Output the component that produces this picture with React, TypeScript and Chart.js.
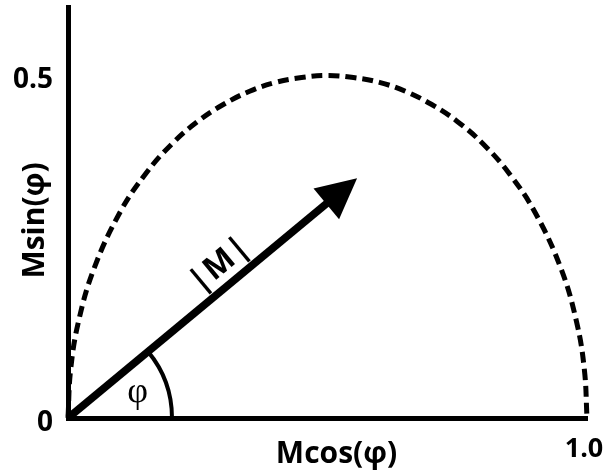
import React, { useEffect, useRef } from "react";
import { Chart, registerables } from "chart.js";

Chart.register(...registerables);

// Locus of the vector tip: semicircle over the x axis
const locusX = [0, 0.005, 0.02, 0.05, 0.1, 0.15, 0.2, 0.25, 0.3, 0.35, 0.4, 0.45, 0.5, 0.55, 0.6, 0.65, 0.7, 0.75, 0.8, 0.85, 0.9, 0.95, 0.98, 0.995, 1.0];
const locusY = [0, 0.07, 0.14, 0.218, 0.3, 0.357, 0.4, 0.433, 0.458, 0.477, 0.49, 0.497, 0.5, 0.497, 0.49, 0.477, 0.458, 0.433, 0.4, 0.357, 0.3, 0.218, 0.14, 0.07, 0];

// Vector |M| from the origin to its tip
const vectorX = [0, 0.557];
const vectorY = [0, 0.35];

// Axis ticks
const xTickValues = [1.0];
const xTickLabels = ["1.0"];
const yTickValues = [0, 0.5];
const yTickLabels = ["0", "0.5"];

const xTitle = "Mcos(φ)";
const yTitle = "Msin(φ)";
const vectorLabel = "|M|";
const angleLabel = "φ";

const BOLD = "'Open Sans', Lato, 'DejaVu Sans', sans-serif";

const vectorPlugin = {
  id: "vectorAnnotations",
  afterDatasetsDraw(chart: any) {
    const { ctx, chartArea, scales } = chart;
    const xs = scales.x;
    const ys = scales.y;
    const ox = xs.getPixelForValue(vectorX[0]);
    const oy = ys.getPixelForValue(vectorY[0]);
    const tx = xs.getPixelForValue(vectorX[1]);
    const ty = ys.getPixelForValue(vectorY[1]);
    const ang = Math.atan2(ty - oy, tx - ox);
    const len = Math.hypot(tx - ox, ty - oy);
    const ux = (tx - ox) / len;
    const uy = (ty - oy) / len;
    const nx = -uy;
    const ny = ux;
    const headLen = 40;
    const headHalf = 20;

    ctx.save();
    ctx.strokeStyle = "#000";
    ctx.fillStyle = "#000";

    // angle arc
    ctx.beginPath();
    ctx.lineWidth = 4;
    ctx.arc(ox, oy, 104, ang, 0);
    ctx.stroke();

    // shaft
    const bx = tx - ux * headLen;
    const by = ty - uy * headLen;
    ctx.beginPath();
    ctx.lineWidth = 7.5;
    ctx.lineCap = "butt";
    ctx.moveTo(ox, oy);
    ctx.lineTo(bx + ux * 2, by + uy * 2);
    ctx.stroke();

    // head
    ctx.beginPath();
    ctx.moveTo(tx, ty);
    ctx.lineTo(bx + nx * headHalf, by + ny * headHalf);
    ctx.lineTo(bx - nx * headHalf, by - ny * headHalf);
    ctx.closePath();
    ctx.fill();

    // |M| label along the vector
    const lx = ox + ux * len * 0.57 - nx * 21;
    const ly = oy + uy * len * 0.57 - ny * 21;
    ctx.save();
    ctx.translate(lx, ly);
    ctx.rotate(ang);
    ctx.font = `bold 32px ${BOLD}`;
    (ctx as any).letterSpacing = "1px";
    ctx.textAlign = "center";
    ctx.textBaseline = "middle";
    ctx.fillText(vectorLabel, 1, 0);
    ctx.restore();

    // angle symbol
    ctx.font = "36px 'Liberation Serif', 'DejaVu Serif', serif";
    ctx.textAlign = "center";
    ctx.textBaseline = "middle";
    ctx.fillText(angleLabel, ox + 74 * Math.cos(ang / 2), oy + 74 * Math.sin(ang / 2));

    // axis titles
    ctx.font = `bold 30px ${BOLD}`;
    ctx.textAlign = "center";
    ctx.textBaseline = "alphabetic";
    ctx.fillText(xTitle, (chartArea.left + chartArea.right) / 2 + 9, chartArea.bottom + 45);

    ctx.save();
    ctx.translate(chartArea.left - 24, (chartArea.top + chartArea.bottom) / 2 + 8);
    ctx.rotate(-Math.PI / 2);
    ctx.fillText(yTitle, 0, 0);
    ctx.restore();

    ctx.restore();
  },
};

export default function App() {
  const ref = useRef<HTMLCanvasElement | null>(null);

  useEffect(() => {
    if (!ref.current) return;
    const chart = new Chart(ref.current, {
      type: "scatter",
      data: {
        datasets: [
          {
            data: locusX.map((x, i) => ({ x, y: locusY[i] })),
            showLine: true,
            borderColor: "#000",
            borderWidth: 5,
            borderDash: [11, 6],
            pointRadius: 0,
            tension: 0.4,
            clip: false,
          },
          {
            // drawn as an arrow by the vectorAnnotations plugin
            data: vectorX.map((x, i) => ({ x, y: vectorY[i] })),
            showLine: false,
            pointRadius: 0,
            borderWidth: 0,
            clip: false,
          },
        ],
      },
      options: {
        animation: false,
        responsive: false,
        devicePixelRatio: 1,
        layout: { padding: { top: 7, right: 19, bottom: 0, left: 0 } },
        plugins: { legend: { display: false }, tooltip: { enabled: false } },
        scales: {
          x: {
            type: "linear",
            min: 0,
            max: 1.0,
            afterBuildTicks: (s: any) => {
              s.ticks = xTickValues.map((value) => ({ value }));
            },
            afterFit: (s: any) => {
              s.height = 54;
              s.paddingLeft = 0;
              s.paddingRight = 0;
            },
            grid: { display: false, drawTicks: false },
            border: { display: true, width: 5, color: "#000" },
            ticks: {
              autoSkip: false,
              maxRotation: 0,
              padding: 15,
              labelOffset: -3,
              color: "#000",
              font: { family: BOLD, size: 27, weight: "bold" },
              callback: (v: any) => {
                const i = xTickValues.indexOf(Number(v));
                return i >= 0 ? xTickLabels[i] : "";
              },
            },
          },
          y: {
            type: "linear",
            min: 0,
            max: 0.6,
            afterBuildTicks: (s: any) => {
              s.ticks = yTickValues.map((value) => ({ value }));
            },
            afterFit: (s: any) => {
              s.width = 68;
              s.paddingTop = 0;
              s.paddingBottom = 0;
            },
            grid: { display: false, drawTicks: false },
            border: { display: true, width: 5, color: "#000" },
            ticks: {
              autoSkip: false,
              padding: 15,
              labelOffset: 5,
              color: "#000",
              font: { family: BOLD, size: 28, weight: "bold" },
              callback: (v: any) => {
                const i = yTickValues.indexOf(Number(v));
                return i >= 0 ? yTickLabels[i] : "";
              },
            },
          },
        },
      },
      plugins: [vectorPlugin],
    });
    return () => chart.destroy();
  }, []);

  return (
    <div style={{ position: "absolute", left: 0, top: 0, width: 606, height: 472, background: "#fff" }}>
      <canvas ref={ref} width={606} height={472} style={{ display: "block" }} />
    </div>
  );
}
